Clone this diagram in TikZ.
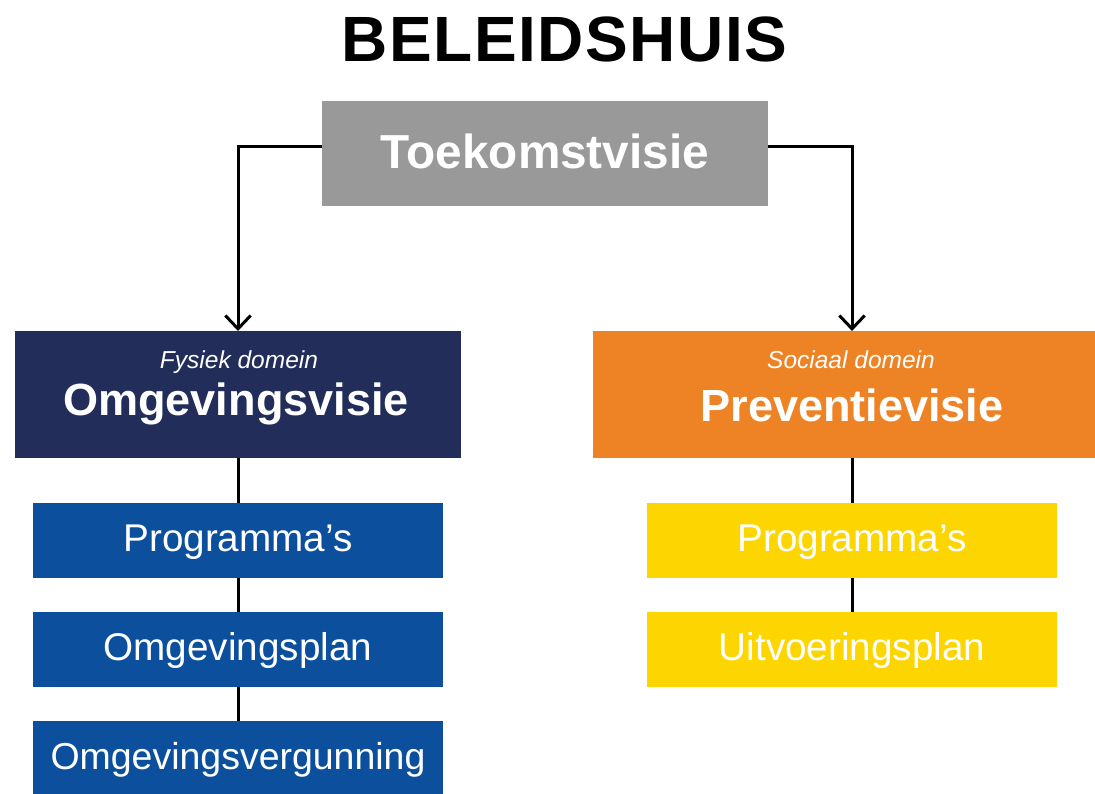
\documentclass[tikz,border=0pt]{standalone}
\usepackage{fontspec}
\setmainfont{Liberation Sans}
\usetikzlibrary{arrows.meta}
\definecolor{tgray}{HTML}{999999}
\definecolor{navy}{HTML}{222D59}
\definecolor{orng}{HTML}{EE8326}
\definecolor{dblue}{HTML}{0C4F9C}
\definecolor{ylw}{HTML}{FDD500}
\begin{document}
\begin{tikzpicture}[x=0.75pt,y=-0.75pt,
  box/.style={rectangle, inner sep=0pt, outer sep=0pt, draw=none},
  bigbox/.style={box, minimum height=95.25pt},
  smallbox/.style={box, minimum width=307.5pt, minimum height=56.25pt,
     text=white, font=\fontsize{29pt}{30pt}\selectfont, text height=21.75pt, text depth=5.8pt},
  wtxt/.style={text=white, anchor=base, inner sep=0pt},
  conn/.style={line width=2.25pt, black},
  arr/.style={conn, -{Straight Barb[length=10pt,width=19pt,line width=2.25pt]}}
]
\useasboundingbox (0,0) rectangle (1095,793);
\clip (0,0) rectangle (1095,793);

% title
\node[anchor=base, inner sep=0pt, font=\addfontfeature{LetterSpace=2.4}\bfseries\fontsize{48pt}{50pt}\selectfont] (title) at (564.5,61) {BELEIDSHUIS};

% top box
\node[box, fill=tgray, minimum width=334.5pt, minimum height=78.75pt] (toek) at (545,153.5) {};
\node[wtxt, font=\bfseries\fontsize{35.8pt}{36pt}\selectfont] (toekt) at (545,168) {Toekomstvisie};

% left domain
\node[bigbox, fill=navy, minimum width=334.5pt] (omg) at (238,394.5) {};
\node[wtxt, font=\itshape\fontsize{18.4pt}{20pt}\selectfont] (omgsub) at (239,368) {Fysiek domein};
\node[wtxt, font=\bfseries\fontsize{33.8pt}{35pt}\selectfont] (omgt) at (236,415) {Omgevingsvisie};

% right domain
\node[bigbox, fill=orng, minimum width=376.5pt] (prev) at (844,394.5) {};
\node[wtxt, font=\itshape\fontsize{18.4pt}{20pt}\selectfont] (prevsub) at (851,368) {Sociaal domein};
\node[wtxt, font=\bfseries\fontsize{33.8pt}{35pt}\selectfont] (prevt) at (852,421) {Preventievisie};

% left stack
\node[smallbox, fill=dblue] (lp1) at (238,540.5) {Programma’s};
\node[smallbox, fill=dblue] (lp2) at (238,649.5) {Omgevingsplan};
\node[smallbox, fill=dblue, font=\fontsize{28.1pt}{30pt}\selectfont] (lp3) at (238,758.5) {Omgevingsvergunning};

% right stack
\node[smallbox, fill=ylw] (rp1) at (852,540.5) {Programma’s};
\node[smallbox, fill=ylw] (rp2) at (852,649.5) {Uitvoeringsplan};

% connectors
\draw[arr] ([yshift=4.9pt]toek.west) -| (omg.north);
\draw[arr] ([yshift=4.9pt]toek.east) -| (rp1.north |- prev.north);
\draw[conn] (omg.south) -- (lp1.north);
\draw[conn] (lp1.south) -- (lp2.north);
\draw[conn] (lp2.south) -- (lp3.north);
\draw[conn] (rp1.north |- prev.south) -- (rp1.north);
\draw[conn] (rp1.south) -- (rp2.north);
\end{tikzpicture}
\end{document}
